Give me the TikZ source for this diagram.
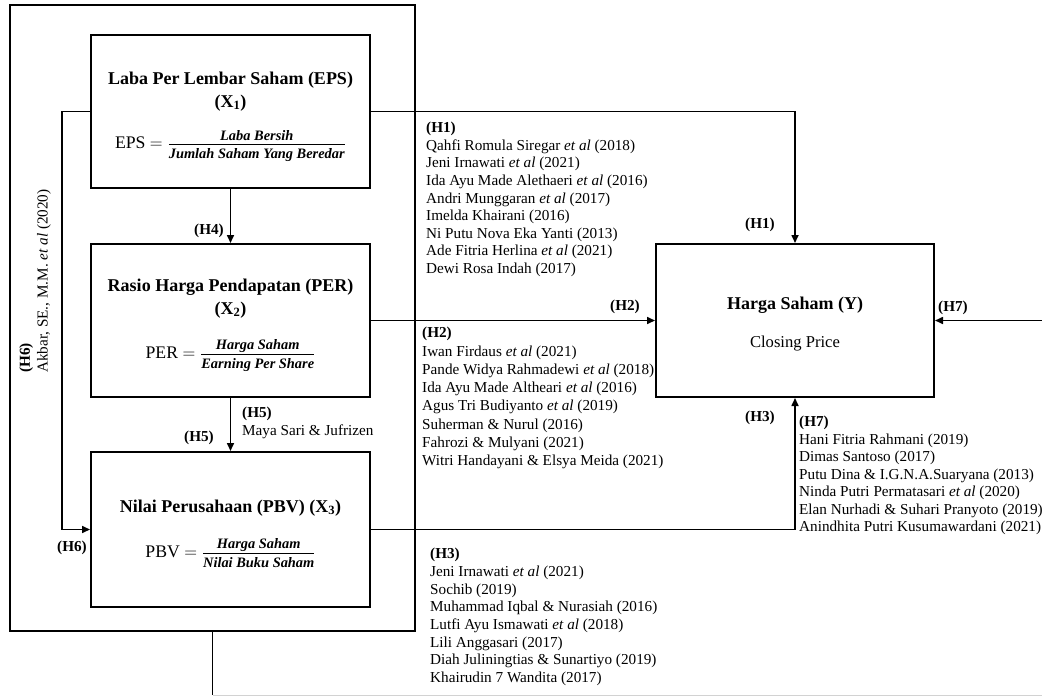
\RequirePackage{fix-cm}
\documentclass[tikz,border=0pt]{standalone}
\usepackage{amsmath}
\usepackage{fontspec}
\setmainfont{Liberation Serif}
\usetikzlibrary{arrows.meta}

\newcommand{\listfont}{\fontsize{15.2}{17.6}\selectfont}
\newcommand{\titlefont}{\fontsize{18}{23}\selectfont\bfseries}
\newcommand{\eqfont}{\fontsize{17.7}{20}\selectfont}
\newcommand{\fracfont}{\fontsize{14.4}{16}\selectfont\bfseries\itshape}
\newcommand{\myfrac}[2]{\genfrac{}{}{1pt}{1}{\hbox{\fracfont #1\rule[-2pt]{0pt}{2pt}}}{\hbox{\fracfont #2\rule{0pt}{13pt}}}}

\tikzset{
  mybox/.style={draw, line width=2pt, inner sep=0pt},
  conn/.style={line width=1.6pt, -{Triangle[length=8pt,width=7pt]}},
  plain/.style={line width=1.6pt},
  lab/.style={font=\listfont\bfseries, inner sep=0pt, anchor=base},
  reflist/.style={font=\listfont, inner sep=0pt, anchor=north west, align=left},
  ttl/.style={font=\titlefont, inner sep=0pt, align=center},
  eqn/.style={font=\eqfont, inner sep=0pt, anchor=base}
}

\begin{document}
\begin{tikzpicture}[x=1pt,y=-1pt]
\useasboundingbox (0,0) rectangle (1042,696);
\fill[white] (0,0) rectangle (1042,696);

% outer frame
\node[mybox, minimum width=405pt, minimum height=626pt] (outer) at (212.5,318) {};

% variable boxes
\node[mybox, minimum width=279pt, minimum height=153pt] (eps) at (230.5,111.5) {};
\node[mybox, minimum width=279pt, minimum height=153pt] (per) at (230.5,320.5) {};
\node[mybox, minimum width=279pt, minimum height=155pt] (pbv) at (230.5,529.5) {};
\node[mybox, minimum width=278pt, minimum height=153pt] (harga) at (795,320.5) {};

% box contents
\node[ttl, anchor=north] (epst) at (230.5,71.6) {Laba Per Lembar Saham (EPS)\\(X\textsubscript{1})};
\node[eqn] (epsf) at (230.5,148.7) {EPS $=\myfrac{Laba Bersih}{Jumlah Saham Yang Beredar}$};

\node[ttl, anchor=north] (pert) at (230.5,278.6) {Rasio Harga Pendapatan (PER)\\(X\textsubscript{2})};
\node[eqn] (perf) at (230.5,358.7) {PER $=\myfrac{Harga Saham}{Earning Per Share}$};

\node[ttl, anchor=base] (pbvt) at (230.5,512) {Nilai Perusahaan (PBV) (X\textsubscript{3})};
\node[eqn] (pbvf) at (230.5,557.7) {PBV $=\myfrac{Harga Saham}{Nilai Buku Saham}$};

\node[ttl, anchor=base] (hargat) at (795,309) {Harga Saham (Y)};
\node[inner sep=0pt, anchor=base, font=\fontsize{16.6}{19}\selectfont] (hargas) at (795,347.5) {Closing Price};

% connectors
\draw[conn] (eps.east) -| (harga.north);
\draw[conn] (per.east) -- (harga.west);
\draw[conn] (pbv.east) -| (harga.south);
\draw[conn] (eps.south) -- (per.north);
\draw[conn] (per.south) -- (pbv.north);
\draw[conn] (eps.west) -- ++(-28,0) |- (pbv.west);
\coordinate (h7b) at (212.5,695);
\coordinate (h7c) at (1042,695);
\draw[plain] (outer.south) -- (h7b);
\draw[gray!35, line width=1pt] (h7b) -- (h7c);
\draw[conn] (harga.east -| h7c) -- (harga.east);

% arrow labels
\node[lab] (lh1) at (760,228.5) {(H1)};
\node[lab] (lh2) at (625,310.5) {(H2)};
\node[lab] (lh7) at (953,311.5) {(H7)};
\node[lab] (lh3) at (760,421.5) {(H3)};
\node[lab] (lh4) at (209,234.5) {(H4)};
\node[lab] (lh5) at (199,441.5) {(H5)};
\node[lab] (lh6) at (72,551.5) {(H6)};

% H5 reference
\node[reflist, font={\fontsize{15.2}{18}\selectfont}] (r5) at (242,407) {\textbf{(H5)}\\Maya Sari \& Jufrizen};

% H6 reference (rotated)
\node[inner sep=0pt, anchor=base west, rotate=90, font=\listfont\bfseries] (r6a) at (30,373) {(H6)};
\node[inner sep=0pt, anchor=base west, rotate=90, font=\listfont] (r6b) at (47.5,373) {Akbar, SE., M.M. \textit{et al} (2020)};

% H1 references
\node[reflist] (r1) at (426,122) {\textbf{(H1)}\\
Qahfi Romula Siregar \textit{et al} (2018)\\
Jeni Irnawati \textit{et al} (2021)\\
Ida Ayu Made Alethaeri \textit{et al} (2016)\\
Andri Munggaran \textit{et al} (2017)\\
Imelda Khairani (2016)\\
Ni Putu Nova Eka Yanti (2013)\\
Ade Fitria Herlina \textit{et al} (2021)\\
Dewi Rosa Indah (2017)};

% H2 references
\node[reflist, font={\fontsize{15.2}{18.3}\selectfont}] (r2) at (422,327) {\textbf{(H2)}\\
Iwan Firdaus \textit{et al} (2021)\\
Pande Widya Rahmadewi \textit{et al} (2018)\\
Ida Ayu Made Altheari \textit{et al} (2016)\\
Agus Tri Budiyanto \textit{et al} (2019)\\
Suherman \& Nurul (2016)\\
Fahrozi \& Mulyani (2021)\\
Witri Handayani \& Elsya Meida (2021)};

% H3 references
\node[reflist, font={\fontsize{15.2}{17.7}\selectfont}] (r3) at (430,548) {\textbf{(H3)}\\
Jeni Irnawati \textit{et al} (2021)\\
Sochib (2019)\\
Muhammad Iqbal \& Nurasiah (2016)\\
Lutfi Ayu Ismawati \textit{et al} (2018)\\
Lili Anggasari (2017)\\
Diah Juliningtias \& Sunartiyo (2019)\\
Khairudin 7 Wandita (2017)};

% H7 references
\node[reflist, font={\fontsize{15.2}{17.5}\selectfont}] (r7) at (799,416) {\textbf{(H7)}\\
Hani Fitria Rahmani (2019)\\
Dimas Santoso (2017)\\
Putu Dina \& I.G.N.A.Suaryana (2013)\\
Ninda Putri Permatasari \textit{et al} (2020)\\
Elan Nurhadi \& Suhari Pranyoto (2019)\\
Anindhita Putri Kusumawardani (2021)};
\end{tikzpicture}
\end{document}
